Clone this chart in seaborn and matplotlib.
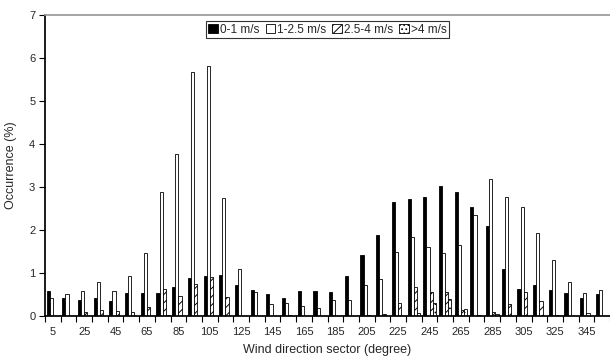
import matplotlib

matplotlib.use("Agg")
import matplotlib.pyplot as plt
import numpy as np
import pandas as pd
import seaborn as sns

sectors = list(range(5, 360, 10))
speed_classes = ["0-1 m/s", "1-2.5 m/s", "2.5-4 m/s", ">4 m/s"]

calm = [0.56, 0.41, 0.36, 0.41, 0.34, 0.53, 0.53, 0.53, 0.66, 0.88, 0.93, 0.95,
        0.70, 0.59, 0.50, 0.41, 0.56, 0.56, 0.55, 0.93, 1.40, 1.88, 2.63, 2.71,
        2.76, 3.02, 2.88, 2.53, 2.08, 1.09, 0.62, 0.71, 0.60, 0.52, 0.40, 0.51]
light = [0.41, 0.49, 0.56, 0.77, 0.57, 0.91, 1.45, 2.87, 3.75, 5.66, 5.81, 2.73,
         1.08, 0.54, 0.26, 0.29, 0.22, 0.18, 0.36, 0.35, 0.70, 0.84, 1.47, 1.82,
         1.60, 1.45, 1.64, 2.34, 3.17, 2.75, 2.53, 1.93, 1.30, 0.78, 0.52, 0.59]
moderate = [0.0, 0.0, 0.07, 0.12, 0.10, 0.07, 0.19, 0.62, 0.45, 0.73, 0.89, 0.43,
            0.0, 0.0, 0.0, 0.02, 0.0, 0.0, 0.0, 0.0, 0.01, 0.03, 0.30, 0.67,
            0.54, 0.54, 0.12, 0.01, 0.08, 0.27, 0.54, 0.33, 0.01, 0.0, 0.05, 0.0]
strong = [0.0, 0.0, 0.0, 0.0, 0.0, 0.0, 0.0, 0.02, 0.0, 0.0, 0.0, 0.0,
          0.0, 0.0, 0.0, 0.0, 0.0, 0.0, 0.0, 0.0, 0.0, 0.0, 0.0, 0.05,
          0.29, 0.38, 0.14, 0.0, 0.03, 0.0, 0.0, 0.0, 0.0, 0.0, 0.0, 0.0]

series = [calm, light, moderate, strong]
faces = ["black", "white", "white", "white"]
hatches = [None, None, "////", "...."]

rows = []
for label, values in zip(speed_classes, series):
    for sector, value in zip(sectors, values):
        rows.append({"sector": str(sector), "speed": label, "occurrence": value})
df = pd.DataFrame(rows)

sns.set_theme(style="ticks")
plt.rcParams["font.family"] = ["Liberation Sans", "DejaVu Sans"]
plt.rcParams["hatch.linewidth"] = 0.7

fig = plt.figure(figsize=(6.1, 3.58), dpi=100)
ax = fig.add_axes([45 / 610, 42.5 / 358, 1 - 45 / 610, 300.8 / 358])

sns.barplot(data=df, x="sector", y="occurrence", hue="speed",
            hue_order=speed_classes, order=[str(s) for s in sectors],
            width=0.8, legend=False, ax=ax)

for container, face, hatch in zip(ax.containers, faces, hatches):
    for bar in container:
        bar.set_facecolor(face)
        bar.set_edgecolor("black")
        bar.set_linewidth(0.6)
        if hatch:
            bar.set_hatch(hatch)

ax.set_ylim(0, 7)
ax.set_yticks(range(0, 8))
ax.set_xlim(-0.5, 35.08)

# tick marks between categories, labels on every second sector
ax.set_xticks(np.arange(-0.5, 36, 1.0))
ax.set_xticklabels([])
ax.set_xticks(np.arange(0, 36, 2), minor=True)
ax.set_xticklabels([str(s) for s in sectors[::2]], minor=True)
ax.tick_params(axis="x", which="major", length=4, width=0.8, color="black")
ax.tick_params(axis="x", which="minor", length=0, pad=8, labelsize=8)
ax.tick_params(axis="y", length=4, width=0.8, color="black", labelsize=8, pad=3)

ax.spines["right"].set_visible(False)
ax.spines["top"].set_color("#999999")
ax.spines["left"].set_color("black")
ax.spines["bottom"].set_color("black")

ax.set_xlabel("Wind direction sector (degree)", fontsize=9, labelpad=5)
ax.set_ylabel("Occurrence (%)", fontsize=9, labelpad=9)

leg = ax.legend(ax.containers, speed_classes, ncol=4, loc="upper center",
                bbox_to_anchor=(0.537, 0.94), bbox_transform=fig.transFigure,
                fontsize=8.5, frameon=True, fancybox=False, edgecolor="black",
                handlelength=0.8, handleheight=0.8, handletextpad=0.2,
                columnspacing=0.5, borderpad=0.2, borderaxespad=0)
leg.get_frame().set_linewidth(0.8)

fig.savefig("out.png", dpi=100)
